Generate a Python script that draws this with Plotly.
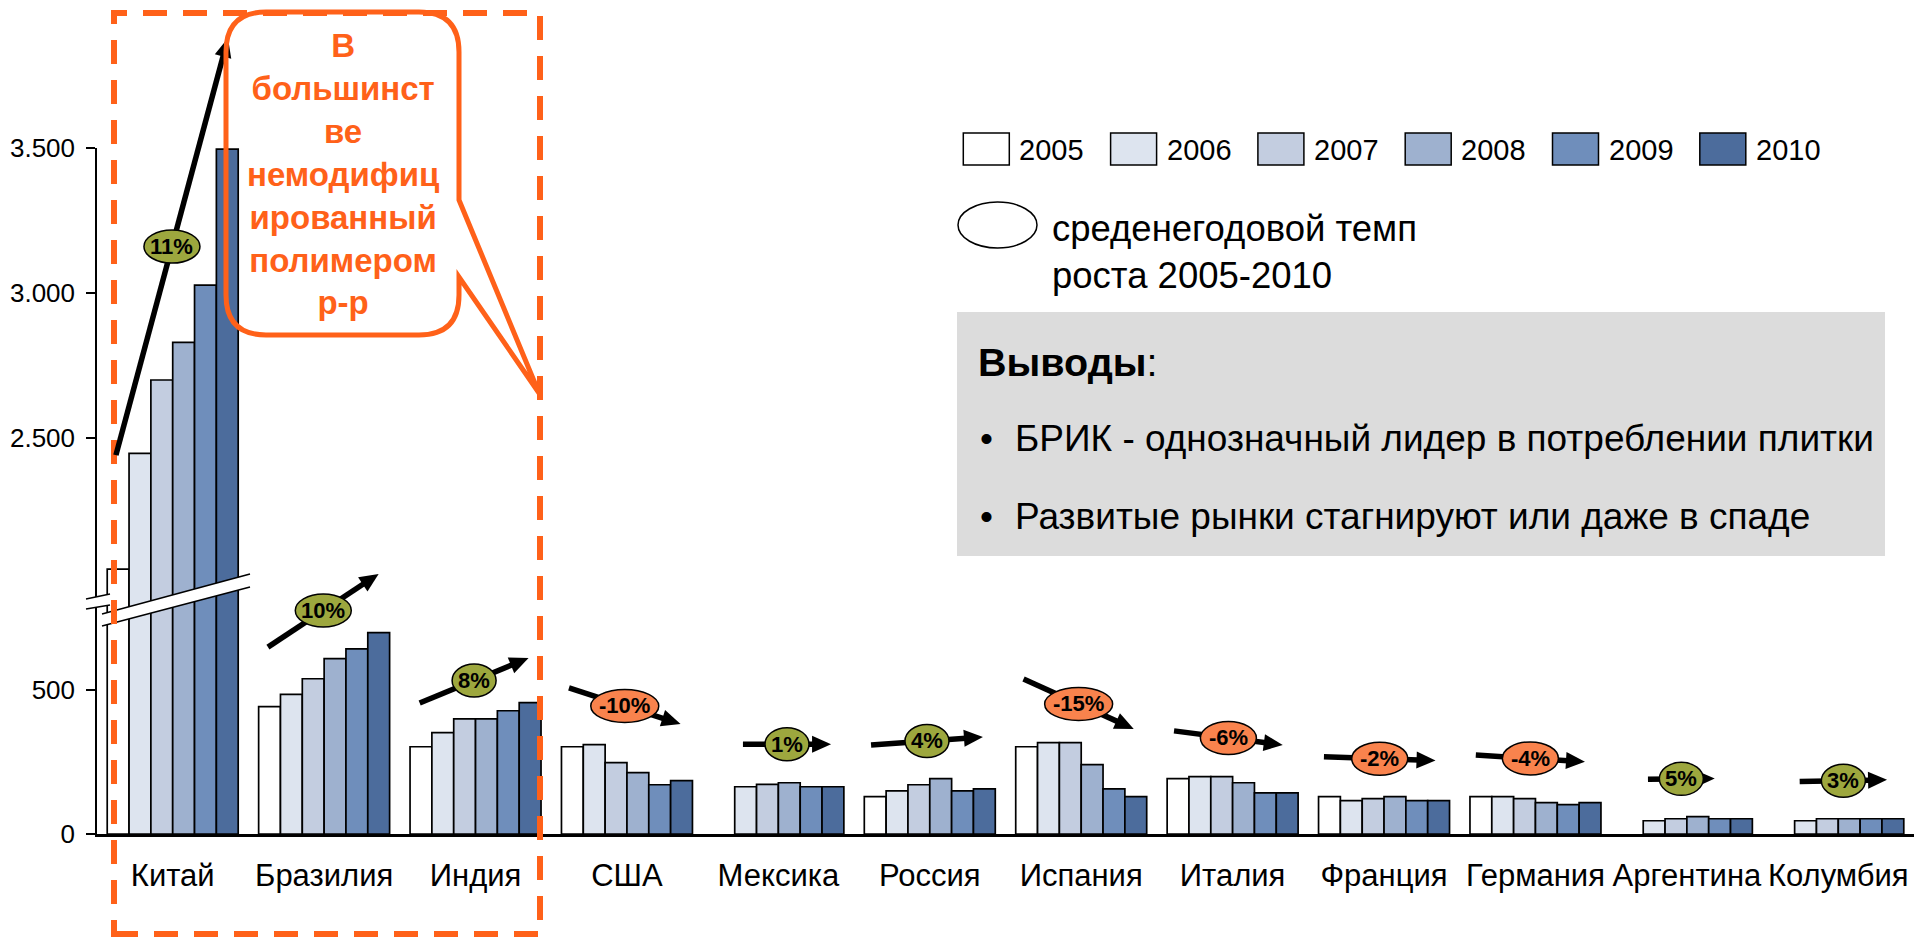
import math
import plotly.graph_objects as go

# ---------------- data ----------------
countries = ["Китай", "Бразилия", "Индия", "США", "Мексика", "Россия",
             "Испания", "Италия", "Франция", "Германия", "Аргентина", "Колумбия"]
years = ["2005", "2006", "2007", "2008", "2009", "2010"]
v2005 = [2047, 442, 303, 303, None, 130, 303, 192, 130, 130, None, None]
v2006 = [2446, 485, 352, 310, 164, 150, 317, 199, 116, 130, 46, 46]
v2007 = [2699, 539, 400, 248, 172, 171, 317, 199, 123, 123, 53, 53]
v2008 = [2829, 609, 400, 213, 178, 192, 241, 178, 130, 109, 60, 53]
v2009 = [3026, 643, 428, 171, 164, 150, 157, 143, 116, 102, 53, 53]
v2010 = [3495, 699, 456, 185, 164, 157, 130, 143, 116, 109, 53, 53]
growth = ["11%", "10%", "8%", "-10%", "1%", "4%", "-15%", "-6%", "-2%", "-4%", "5%", "3%"]
series = [v2005, v2006, v2007, v2008, v2009, v2010]

# ---------------- styles / layout geometry ----------------
W, H = 1914, 937
FONT = "Liberation Sans, Arial, sans-serif"
ORANGE = "#FF6119"
year_colors = ["#FFFFFF", "#DDE4EF", "#C3CDE0", "#9EB1CF", "#6F8EBB", "#4C6C9C"]
POS_COLOR = "#9DA73E"
NEG_COLOR = "#F9834D"

X0, X1 = 97, 1914          # x-axis domain in px
BASE_PX, BREAK_PX, TOP_PX = 834, 600, 147.7
LOW_SCALE = 0.288          # px per unit (lower segment)
UP_REF_V, UP_REF_PX, UP_SCALE = 2500, 437.7, 0.29
LOW_RANGE = [0, (BASE_PX - BREAK_PX) / LOW_SCALE]
UP_RANGE = [UP_REF_V - (BREAK_PX - UP_REF_PX) / UP_SCALE, UP_REF_V + (UP_REF_PX - TOP_PX) / UP_SCALE]
N = len(countries)


def xpx(xi):
    return X0 + (xi + 0.5) * (X1 - X0) / N


def ypx_low(v):
    return BASE_PX - v * LOW_SCALE


def ypx_up(v):
    return UP_REF_PX - (v - UP_REF_V) * UP_SCALE


def P(x, y):
    return x / W, 1 - y / H


# arrow geometry per country: (axis, tail_x, tail_v, head_x, head_v) in data units
arrow_geom = [
    ("up", -0.375, 2440, 0.365, 3878),
    ("low", 0.629, 649, 1.360, 903),
    ("low", 1.631, 455, 2.350, 611),
    ("low", 2.617, 507, 3.354, 382),
    ("low", 3.766, 312, 4.348, 312),
    ("low", 4.612, 309, 5.351, 337),
    ("low", 5.619, 538, 6.347, 365),
    ("low", 6.613, 358, 7.331, 309),
    ("low", 7.603, 268, 8.340, 255),
    ("low", 8.606, 274, 9.327, 251),
    ("low", 9.743, 190, 10.184, 193),
    ("low", 10.745, 182, 11.322, 188),
]

fig = go.Figure()

GROUP_W = 0.865
BW = GROUP_W / 6
for k, (yr, vals) in enumerate(zip(years, series)):
    off = -GROUP_W / 2 + k * BW
    fig.add_trace(go.Bar(x=list(range(N)), y=vals, name=yr, xaxis="x", yaxis="y",
                         width=BW, offset=off, marker=dict(color=year_colors[k], line=dict(color="black", width=1.7)),
                         showlegend=False))
    fig.add_trace(go.Bar(x=[0], y=[vals[0]], name=yr, xaxis="x", yaxis="y2",
                         width=BW, offset=off, marker=dict(color=year_colors[k], line=dict(color="black", width=1.7)),
                         showlegend=False))

shapes = []
annotations = []


def path_from(points, close=True):
    s = ""
    for i, (x, y) in enumerate(points):
        px, py = P(x, y)
        s += ("M" if i == 0 else "L") + f"{px:.6f},{py:.6f} "
    return s + ("Z" if close else "")


def seg(p0, p1, color="black", width=1.5):
    a, b = P(*p0), P(*p1)
    shapes.append(dict(type="line", xref="paper", yref="paper", x0=a[0], y0=a[1], x1=b[0], y1=b[1],
                       line=dict(color=color, width=width), layer="above"))


# axis breaks
for (tl, tr, bl, br) in [((86, 599), (110, 594), (86, 609), (110, 605)),
                         ((102, 614), (250, 574), (102, 626), (250, 587))]:
    shapes.append(dict(type="path", xref="paper", yref="paper", path=path_from([tl, tr, br, bl]),
                       fillcolor="white", line=dict(width=0), layer="above"))
    seg(tl, tr)
    seg(bl, br)

# dashed orange frame
a, b = P(114, 13), P(540, 934)
shapes.append(dict(type="rect", xref="paper", yref="paper", x0=a[0], y0=b[1], x1=b[0], y1=a[1],
                   line=dict(color=ORANGE, width=6, dash="24px,16px"), fillcolor="rgba(0,0,0,0)", layer="above"))

# growth arrows + ellipses
HEAD_L, HEAD_W = 19, 17
ell_shapes = []
for (ax, tx, tv, hx, hv), lab in zip(arrow_geom, growth):
    fy = ypx_up if ax == "up" else ypx_low
    t = (xpx(tx), fy(tv))
    h = (xpx(hx), fy(hv))
    dx, dy = h[0] - t[0], h[1] - t[1]
    L = math.hypot(dx, dy)
    ux, uy = dx / L, dy / L
    base = (h[0] - HEAD_L * ux, h[1] - HEAD_L * uy)
    seg(t, (base[0] + 2 * ux, base[1] + 2 * uy), width=5.5)
    p1 = (base[0] - uy * HEAD_W / 2, base[1] + ux * HEAD_W / 2)
    p2 = (base[0] + uy * HEAD_W / 2, base[1] - ux * HEAD_W / 2)
    shapes.append(dict(type="path", xref="paper", yref="paper", path=path_from([h, p1, p2]),
                       fillcolor="black", line=dict(width=0), layer="above"))
    cx, cy = (t[0] + h[0]) / 2, (t[1] + h[1]) / 2
    ew, eh = 20 + 12 * len(lab), 33
    a, b = P(cx - ew / 2, cy - eh / 2), P(cx + ew / 2, cy + eh / 2)
    col = NEG_COLOR if lab.startswith("-") else POS_COLOR
    ell_shapes.append(dict(type="circle", xref="paper", yref="paper", x0=a[0], y0=b[1], x1=b[0], y1=a[1],
                           fillcolor=col, line=dict(color="black", width=1.5), layer="above"))
    c = P(cx, cy)
    annotations.append(dict(x=c[0], y=c[1], xref="paper", yref="paper", text=f"<b>{lab}</b>", showarrow=False,
                            xanchor="center", yanchor="middle",
                            font=dict(family=FONT, size=22, color="black")))
shapes += ell_shapes

# callout box
Lc, Tc, Rc, Bc, r = 226, 12, 459, 335, 40


def cp(x, y):
    px, py = P(x, y)
    return f"{px:.6f},{py:.6f}"


callout = (f"M{cp(Lc + r, Tc)} L{cp(Rc - r, Tc)} Q{cp(Rc, Tc)} {cp(Rc, Tc + r)} "
           f"L{cp(Rc, 200)} L{cp(539, 393)} L{cp(Rc, 277)} L{cp(Rc, Bc - r)} "
           f"Q{cp(Rc, Bc)} {cp(Rc - r, Bc)} L{cp(Lc + r, Bc)} Q{cp(Lc, Bc)} {cp(Lc, Bc - r)} "
           f"L{cp(Lc, Tc + r)} Q{cp(Lc, Tc)} {cp(Lc + r, Tc)} Z")
shapes.append(dict(type="path", xref="paper", yref="paper", path=callout, fillcolor="rgba(0,0,0,0)",
                   line=dict(color=ORANGE, width=5), layer="above"))
c = P((Lc + Rc) / 2, 174)
annotations.append(dict(x=c[0], y=c[1], xref="paper", yref="paper",
                        text="<b>В<br>большинст<br>ве<br>немодифиц<br>ированный<br>полимером<br>р-р</b>",
                        showarrow=False, xanchor="center", yanchor="middle", align="center",
                        font=dict(family=FONT, size=33, color=ORANGE)))

# custom legend
for k, yr in enumerate(years):
    x0 = 963.3 + k * 147.3
    a, b = P(x0, 133), P(x0 + 46, 165)
    shapes.append(dict(type="rect", xref="paper", yref="paper", x0=a[0], y0=b[1], x1=b[0], y1=a[1],
                       fillcolor=year_colors[k], line=dict(color="black", width=1.5), layer="above"))
    c = P(x0 + 54, 150)
    annotations.append(dict(x=c[0], y=c[1], xref="paper", yref="paper", text=yr, showarrow=False,
                            xanchor="left", yanchor="middle", font=dict(family=FONT, size=29, color="black")))

a, b = P(958, 202), P(1037, 248)
shapes.append(dict(type="circle", xref="paper", yref="paper", x0=a[0], y0=b[1], x1=b[0], y1=a[1],
                   fillcolor="white", line=dict(color="black", width=1.5), layer="above"))
c = P(1050, 252)
annotations.append(dict(x=c[0], y=c[1], xref="paper", yref="paper",
                        text="среденегодовой темп<br>роста 2005-2010", showarrow=False,
                        xanchor="left", yanchor="middle", align="left",
                        font=dict(family=FONT, size=36.5, color="black")))

# conclusions box
a, b = P(957, 312), P(1885, 556)
shapes.append(dict(type="rect", xref="paper", yref="paper", x0=a[0], y0=b[1], x1=b[0], y1=a[1],
                   fillcolor="#DCDCDC", line=dict(width=0), layer="below"))
c = P(976, 362)
annotations.append(dict(x=c[0], y=c[1], xref="paper", yref="paper", text="<b>Выводы</b>:", showarrow=False,
                        xanchor="left", yanchor="middle", font=dict(family=FONT, size=39.5, color="black")))
for yy, txt in [(439, "БРИК - однозначный лидер в потреблении плитки"),
                (516, "Развитые рынки стагнируют или даже в спаде")]:
    c = P(978, yy)
    annotations.append(dict(x=c[0], y=c[1], xref="paper", yref="paper", text="•", showarrow=False,
                            xanchor="left", yanchor="middle", font=dict(family=FONT, size=37, color="black")))
    c = P(1013, yy)
    annotations.append(dict(x=c[0], y=c[1], xref="paper", yref="paper", text=txt, showarrow=False,
                            xanchor="left", yanchor="middle", font=dict(family=FONT, size=37, color="black")))

fig.update_layout(
    width=W, height=H, margin=dict(l=0, r=0, t=0, b=0),
    paper_bgcolor="white", plot_bgcolor="rgba(0,0,0,0)",
    barmode="overlay", showlegend=False,
    font=dict(family=FONT, color="black"),
    xaxis=dict(domain=[X0 / W, X1 / W], range=[-0.5, N - 0.5], anchor="y",
               tickmode="array", tickvals=list(range(N)), ticktext=countries,
               tickfont=dict(size=31, family=FONT, color="black"), ticks="", ticklabelstandoff=12,
               showline=True, linecolor="black", linewidth=2.5, showgrid=False, zeroline=False,
               automargin=False, fixedrange=True),
    yaxis=dict(domain=[1 - BASE_PX / H, 1 - BREAK_PX / H], range=LOW_RANGE, anchor="x",
               tickmode="array", tickvals=[0, 500], ticktext=["0", "500"],
               tickfont=dict(size=26, family=FONT, color="black"), ticks="outside", ticklen=9,
               tickcolor="black", tickwidth=1.5, ticklabelstandoff=6,
               showline=True, linecolor="black", linewidth=1.5, showgrid=False, zeroline=False,
               automargin=False),
    yaxis2=dict(domain=[1 - BREAK_PX / H, 1 - TOP_PX / H], range=UP_RANGE, anchor="x",
                tickmode="array", tickvals=[2500, 3000, 3500], ticktext=["2.500", "3.000", "3.500"],
                tickfont=dict(size=26, family=FONT, color="black"), ticks="outside", ticklen=9,
                tickcolor="black", tickwidth=1.5, ticklabelstandoff=6,
                showline=True, linecolor="black", linewidth=1.5, showgrid=False, zeroline=False,
                automargin=False),
    shapes=shapes, annotations=annotations,
)

fig.write_html("out.html", config={"displayModeBar": False},
               post_script="document.body.style.margin='0px';document.body.style.overflow='hidden';")
